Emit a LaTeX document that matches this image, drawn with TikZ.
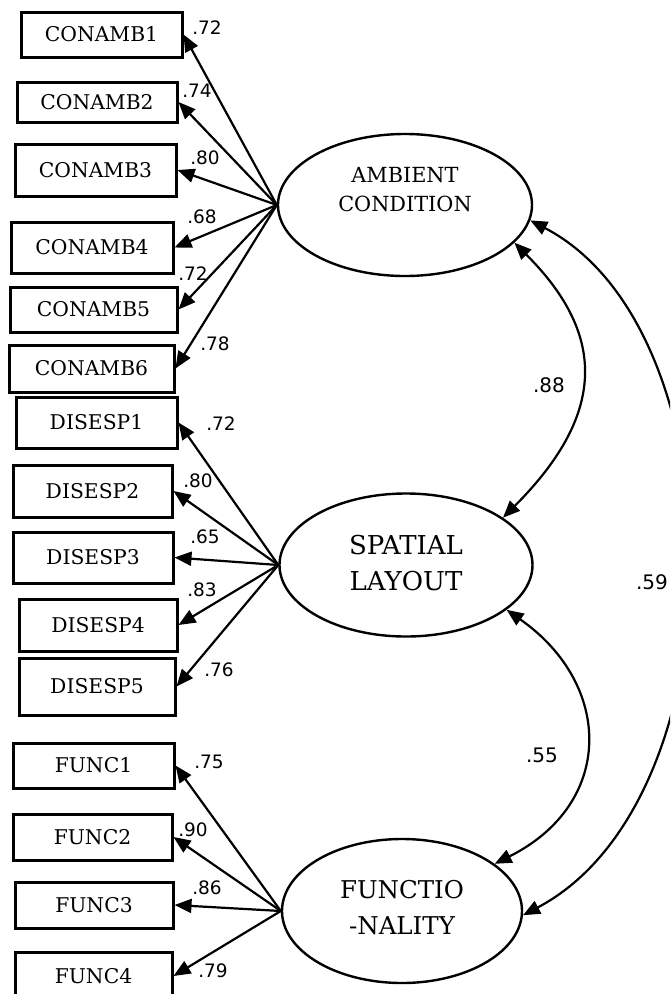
\documentclass[tikz,border=0pt]{standalone}
\usepackage{fontspec}
\setmainfont{DejaVu Serif}
\newfontfamily\numfont{DejaVu Sans}
\usetikzlibrary{arrows.meta,shapes.geometric}
\begin{document}
\begin{tikzpicture}[x=1pt,y=-1pt,
  obs/.style={draw, line width=3pt, inner sep=0pt, font=\fontsize{20.3}{23}\selectfont},
  lat/.style={draw, ellipse, line width=2.4pt, inner sep=0pt, minimum width=254pt, minimum height=142pt},
  lattext/.style={align=center, inner sep=0pt},
  load/.style={-{Triangle[length=17pt,width=14pt]}, line width=2.2pt},
  cov/.style={{Triangle[length=17pt,width=14pt]}-{Triangle[length=17pt,width=14pt]}, line width=2.2pt},
  val/.style={font=\numfont\fontsize{18.5}{20}\selectfont, inner sep=0pt},
  covval/.style={font=\numfont\fontsize{20}{22}\selectfont, inner sep=0pt}]
\clip (0,0) rectangle (670,994);
\fill[white] (0,0) rectangle (670,994);

% observed variables
\node[obs, minimum width=161pt, minimum height=45pt] (c1) at (101.5,34.5) {CONAMB1};
\node[obs, minimum width=160pt, minimum height=40pt] (c2) at (97,102) {CONAMB2};
\node[obs, minimum width=161pt, minimum height=52pt] (c3) at (95.5,170) {CONAMB3};
\node[obs, minimum width=162pt, minimum height=51pt] (c4) at (92,247.5) {CONAMB4};
\node[obs, minimum width=167pt, minimum height=45pt] (c5) at (93.5,309.5) {CONAMB5};
\node[obs, minimum width=165pt, minimum height=47pt] (c6) at (91.5,368.5) {CONAMB6};
\node[obs, minimum width=161pt, minimum height=51pt] (d1) at (96.5,422.5) {DISESP1};
\node[obs, minimum width=159pt, minimum height=52pt] (d2) at (92.5,491) {DISESP2};
\node[obs, minimum width=160pt, minimum height=51pt] (d3) at (93,557.5) {DISESP3};
\node[obs, minimum width=158pt, minimum height=52pt] (d4) at (98,625) {DISESP4};
\node[obs, minimum width=156pt, minimum height=57pt] (d5) at (97,686.5) {DISESP5};
\node[obs, minimum width=161pt, minimum height=45pt] (f1) at (93.5,765.5) {FUNC1};
\node[obs, minimum width=159pt, minimum height=46pt] (f2) at (92.5,837) {FUNC2};
\node[obs, minimum width=158pt, minimum height=46pt] (f3) at (94,905) {FUNC3};
\node[obs, minimum width=157pt, minimum height=48pt] (f4) at (93.5,976) {FUNC4};

% latent variables
\node[lat] (amb) at (405,205) {};
\node[lattext, font=\fontsize{20.8}{29}\selectfont] (ambt) at (405,190) {AMBIENT\\CONDITION};
\node[lat, minimum width=253pt, minimum height=143pt] (spa) at (406,565) {};
\node[lattext, font=\fontsize{26}{36}\selectfont] (spat) at (406,563) {SPATIAL\\LAYOUT};
\node[lat, minimum width=240pt, minimum height=144pt] (fun) at (402,911) {};
\node[lattext, font=\fontsize{24.5}{36}\selectfont] (funt) at (402,908) {FUNCTIO\\-NALITY};

% loadings
\foreach \o in {c1,c2,c3,c4,c5,c6} \draw[load] (amb.west) -- (\o.east);
\foreach \o in {d1,d2,d3,d4,d5} \draw[load] (spa.west) -- (\o.east);
\foreach \o in {f1,f2,f3,f4} \draw[load] (fun.west) -- (\o.east);

\node[val] (lc1) at (207,28) {.72};
\node[val] (lc2) at (197,91) {.74};
\node[val] (lc3) at (205,158) {.80};
\node[val] (lc4) at (202,217) {.68};
\node[val] (lc5) at (193,274) {.72};
\node[val] (lc6) at (215,344) {.78};
\node[val] (ld1) at (221,424) {.72};
\node[val] (ld2) at (198,481) {.80};
\node[val] (ld3) at (205,537) {.65};
\node[val] (ld4) at (202,590) {.83};
\node[val] (ld5) at (219,670) {.76};
\node[val] (lf1) at (209,762) {.75};
\node[val] (lf2) at (193,830) {.90};
\node[val] (lf3) at (207,888) {.86};
\node[val] (lf4) at (213,971) {.79};

% covariances
\draw[cov] (amb.-19) .. controls +(88,88) and +(108,-108) .. (spa.26);
\draw[cov] (spa.-24) .. controls +(107,75) and +(120,-60) .. (fun.27);
\draw[cov] (amb.-7) .. controls +(211,110) and +(218,-115) .. (fun.-2);

\node[covval] (r1) at (549,385) {.88};
\node[covval] (r2) at (542,755) {.55};
\node[covval] (r3) at (652,582) {.59};
\end{tikzpicture}
\end{document}
